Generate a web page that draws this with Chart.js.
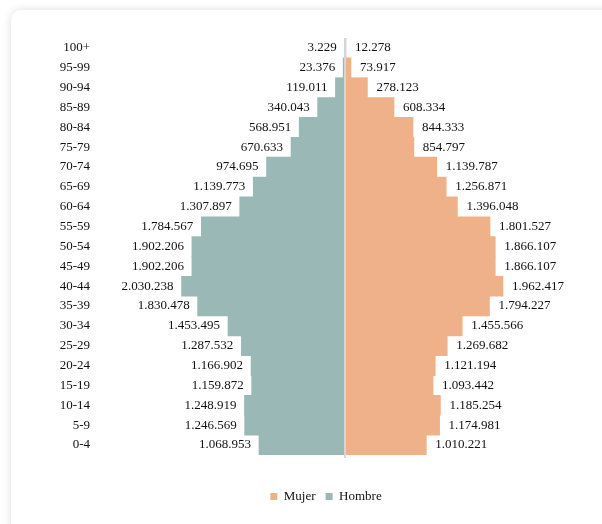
<!DOCTYPE html>
<html>
<head>
<meta charset="utf-8">
<script src="https://cdn.jsdelivr.net/npm/chart.js@4/dist/chart.umd.min.js"></script>
<style>
  html, body { margin: 0; padding: 0; background: #ffffff; }
  #wrap { position: relative; width: 602px; height: 524px; overflow: hidden; }
  #card {
    position: absolute; left: 11px; top: 10px; width: 640px; height: 560px;
    background: #ffffff; border-radius: 10px;
    box-shadow: 0 0 10px rgba(0, 0, 0, 0.13);
  }
  #chart { position: absolute; left: 0; top: 0; }
</style>
</head>
<body>
<div id="wrap">
  <div id="card"></div>
  <canvas id="chart" width="602" height="524"></canvas>
</div>
<script>
// Age groups, oldest at the top
const ageGroups = ['100+', '95-99', '90-94', '85-89', '80-84', '75-79', '70-74', '65-69',
  '60-64', '55-59', '50-54', '45-49', '40-44', '35-39', '30-34', '25-29', '20-24',
  '15-19', '10-14', '5-9', '0-4'];

const hombre = [3229, 23376, 119011, 340043, 568951, 670633, 974695, 1139773, 1307897,
  1784567, 1902206, 1902206, 2030238, 1830478, 1453495, 1287532, 1166902, 1159872,
  1248919, 1246569, 1068953];

const mujer = [12278, 73917, 278123, 608334, 844333, 854797, 1139787, 1256871, 1396048,
  1801527, 1866107, 1866107, 1962417, 1794227, 1455566, 1269682, 1121194, 1093442,
  1185254, 1174981, 1010221];

const COLOR_MUJER = '#efb189';
const COLOR_HOMBRE = '#9ab8b6';
const TEXT = '#111111';
const AXIS_MIN = -3043500;
const AXIS_MAX = 3192000;
const FAMILY = '"Liberation Serif", "Times New Roman", serif';

Chart.defaults.font.family = FAMILY;
Chart.defaults.font.size = 13;
Chart.defaults.color = TEXT;

function fmt(v) {
  return String(Math.round(Math.abs(v))).replace(/\B(?=(\d{3})+(?!\d))/g, '.');
}

// value labels at the outer end of each bar, plus the centre line
const pyramidLabels = {
  id: 'pyramidLabels',
  afterDatasetsDraw(chart) {
    const { ctx, chartArea } = chart;
    const xScale = chart.scales.x;
    const x0 = xScale.getPixelForValue(0);
    ctx.save();
    ctx.strokeStyle = '#d3d8d8';
    ctx.lineWidth = 2;
    ctx.beginPath();
    ctx.moveTo(x0, chartArea.top);
    ctx.lineTo(x0, chartArea.bottom + 3);
    ctx.stroke();

    ctx.font = '13px ' + FAMILY;
    ctx.fillStyle = TEXT;
    ctx.textBaseline = 'middle';
    chart.data.datasets.forEach((ds, di) => {
      const meta = chart.getDatasetMeta(di);
      meta.data.forEach((bar, i) => {
        const v = ds.data[i];
        if (v < 0) {
          ctx.textAlign = 'right';
          ctx.fillText(fmt(v), bar.x - 8, bar.y);
        } else {
          ctx.textAlign = 'left';
          ctx.fillText(fmt(v), bar.x + 9, bar.y);
        }
      });
    });
    ctx.restore();
  }
};

function draw() {
  new Chart(document.getElementById('chart'), {
    type: 'bar',
    data: {
      labels: ageGroups,
      datasets: [
        {
          label: 'Mujer',
          data: mujer,
          backgroundColor: COLOR_MUJER,
          borderWidth: 0,
          barPercentage: 1,
          categoryPercentage: 1
        },
        {
          label: 'Hombre',
          data: hombre.map(v => -v),
          backgroundColor: COLOR_HOMBRE,
          borderWidth: 0,
          barPercentage: 1,
          categoryPercentage: 1
        }
      ]
    },
    options: {
      indexAxis: 'y',
      responsive: false,
      animation: false,
      layout: { padding: { left: 50, right: 0, top: 38, bottom: 11 } },
      scales: {
        x: {
          stacked: true,
          min: AXIS_MIN,
          max: AXIS_MAX,
          ticks: { display: false },
          grid: { display: false, drawTicks: false },
          border: { display: false },
          afterFit(scale) { scale.height = 25; }
        },
        y: {
          stacked: true,
          ticks: { padding: 10, color: TEXT, font: { size: 13 } },
          grid: { display: false, drawTicks: false },
          border: { display: false },
          afterFit(scale) { scale.width = 50; }
        }
      },
      plugins: {
        tooltip: { enabled: false },
        legend: {
          position: 'bottom',
          labels: {
            boxWidth: 7,
            boxHeight: 7,
            padding: 10,
            color: TEXT,
            font: { size: 13 }
          }
        }
      }
    },
    plugins: [pyramidLabels]
  });
}

document.fonts.load('13px "Liberation Serif"').then(draw, draw);
</script>
</body>
</html>
